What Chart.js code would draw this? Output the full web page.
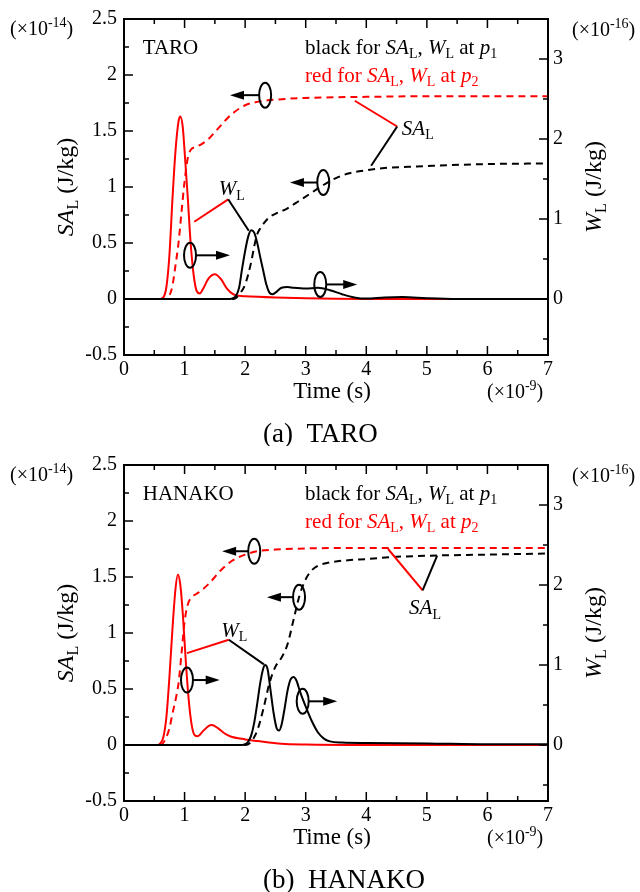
<!DOCTYPE html>
<html>
<head>
<meta charset="utf-8">
<script src="https://cdn.jsdelivr.net/npm/chart.js@4.4.1/dist/chart.umd.min.js"></script>
<style>
  html, body { margin: 0; padding: 0; background: #fff; }
  #wrap { position: relative; width: 640px; height: 892px; }
  canvas { position: absolute; left: 0; }
</style>
</head>
<body>
<div id="wrap">
  <canvas id="taro" width="640" height="446" style="top:0;width:640px;height:446px"></canvas>
  <canvas id="hanako" width="640" height="446" style="top:446px;width:640px;height:446px"></canvas>
</div>
<script>
// axis ranges (time x1e-9 s, SA_L x1e-14 J/kg, W_L x1e-16 J/kg)
const timeRange = [0, 7];
const saRange = [-0.5, 2.5];
const wRange = [-0.7, 3.5];

// (a) TARO
const taroRedWTime = [0, 0.6, 0.65, 0.7, 0.75, 0.8, 0.85, 0.9, 0.93, 0.97, 1.0, 1.05, 1.1, 1.15, 1.2, 1.25, 1.3, 1.4, 1.5, 1.6, 1.7, 1.8, 1.9, 2.0, 2.5, 3.0, 3.5, 4.0, 7.0];
const taroRedW = [0, 0, 0.02, 0.15, 0.55, 1.25, 1.85, 2.22, 2.28, 2.15, 1.85, 1.3, 0.7, 0.3, 0.1, 0.07, 0.12, 0.26, 0.31, 0.25, 0.13, 0.06, 0.04, 0.035, 0.02, 0.01, 0.003, 0, 0];
const taroRedSATime = [0, 0.7, 0.75, 0.8, 0.85, 0.9, 0.95, 1.0, 1.05, 1.1, 1.2, 1.3, 1.4, 1.5, 1.6, 1.7, 1.8, 2.0, 2.2, 2.5, 3.0, 4.0, 5.0, 7.0];
const taroRedSA = [0, 0, 0.03, 0.12, 0.3, 0.5, 0.78, 1.05, 1.25, 1.33, 1.36, 1.39, 1.43, 1.49, 1.55, 1.61, 1.66, 1.73, 1.76, 1.78, 1.795, 1.805, 1.81, 1.81];
const taroBlackWTime = [0, 1.75, 1.8, 1.85, 1.9, 1.95, 2.0, 2.05, 2.1, 2.15, 2.2, 2.25, 2.3, 2.35, 2.4, 2.45, 2.5, 2.6, 2.7, 2.8, 3.0, 3.2, 3.4, 3.6, 3.8, 4.0, 4.3, 4.6, 5.0, 5.5, 7.0];
const taroBlackW = [0, 0, 0.01, 0.04, 0.14, 0.38, 0.6, 0.78, 0.86, 0.83, 0.7, 0.52, 0.35, 0.18, 0.08, 0.06, 0.08, 0.14, 0.15, 0.14, 0.13, 0.14, 0.11, 0.06, 0.02, 0.005, 0.02, 0.025, 0.01, 0, 0];
const taroBlackSATime = [0, 1.8, 1.85, 1.9, 2.0, 2.1, 2.15, 2.2, 2.25, 2.3, 2.4, 2.5, 2.7, 2.9, 3.1, 3.3, 3.5, 3.7, 4.0, 4.3, 4.7, 5.1, 6.0, 7.0];
const taroBlackSA = [0, 0, 0.01, 0.04, 0.13, 0.33, 0.47, 0.58, 0.63, 0.67, 0.73, 0.76, 0.81, 0.88, 0.95, 1.02, 1.08, 1.12, 1.15, 1.17, 1.18, 1.19, 1.205, 1.21];

// (b) HANAKO
const hanakoRedWTime = [0, 0.55, 0.6, 0.65, 0.7, 0.75, 0.8, 0.85, 0.89, 0.93, 0.97, 1.02, 1.07, 1.12, 1.17, 1.22, 1.3, 1.4, 1.45, 1.55, 1.65, 1.75, 2.0, 2.2, 2.6, 3.0, 4.0, 7.0];
const hanakoRedW = [0, 0, 0.02, 0.1, 0.35, 0.85, 1.45, 1.95, 2.13, 2.0, 1.65, 1.05, 0.55, 0.24, 0.12, 0.11, 0.17, 0.24, 0.25, 0.21, 0.15, 0.11, 0.07, 0.05, 0.015, 0.005, 0, 0];
const hanakoRedSATime = [0, 0.6, 0.65, 0.7, 0.75, 0.8, 0.85, 0.9, 0.95, 1.0, 1.05, 1.1, 1.2, 1.3, 1.4, 1.5, 1.6, 1.7, 1.8, 2.0, 2.2, 2.5, 3.0, 4.0, 7.0];
const hanakoRedSA = [0, 0, 0.02, 0.07, 0.15, 0.28, 0.4, 0.55, 0.82, 1.1, 1.25, 1.31, 1.35, 1.39, 1.44, 1.5, 1.56, 1.61, 1.65, 1.7, 1.73, 1.745, 1.755, 1.76, 1.76];
const hanakoBlackWTime = [0, 1.95, 2.0, 2.05, 2.1, 2.15, 2.2, 2.25, 2.3, 2.33, 2.37, 2.42, 2.47, 2.52, 2.56, 2.6, 2.65, 2.7, 2.75, 2.8, 2.85, 2.9, 3.0, 3.1, 3.2, 3.3, 3.4, 3.6, 4.0, 5.0, 6.0, 7.0];
const hanakoBlackW = [0, 0, 0.01, 0.04, 0.12, 0.28, 0.52, 0.78, 0.96, 1.0, 0.95, 0.68, 0.4, 0.21, 0.18, 0.25, 0.45, 0.68, 0.82, 0.85, 0.8, 0.68, 0.48, 0.3, 0.16, 0.08, 0.045, 0.03, 0.025, 0.02, 0.01, 0.01];
const hanakoBlackSATime = [0, 2.0, 2.1, 2.2, 2.3, 2.4, 2.5, 2.6, 2.7, 2.8, 2.9, 3.0, 3.1, 3.2, 3.4, 3.7, 4.0, 4.5, 5.0, 6.0, 7.0];
const hanakoBlackSA = [0, 0, 0.03, 0.13, 0.32, 0.55, 0.7, 0.78, 0.9, 1.12, 1.34, 1.48, 1.56, 1.6, 1.63, 1.65, 1.66, 1.68, 1.69, 1.70, 1.71];

const SERIF = '"Liberation Serif", "Times New Roman", serif';
const RED = '#ff0000';

function pts(t, v) {
  return t.map((x, i) => ({ x: x, y: v[i] }));
}

// parts: {t, i (italic), sub, sup}; y is baseline
function drawRich(ctx, parts, x, y, size, color, align) {
  ctx.save();
  ctx.fillStyle = color;
  ctx.textBaseline = 'alphabetic';
  ctx.textAlign = 'left';
  const fontOf = p => (p.i ? 'italic ' : '') + Math.round((p.sub || p.sup) ? size * 0.68 : size) + 'px ' + SERIF;
  let w = 0;
  parts.forEach(p => { ctx.font = fontOf(p); w += ctx.measureText(p.t).width; });
  let cx = align === 'center' ? x - w / 2 : (align === 'right' ? x - w : x);
  parts.forEach(p => {
    ctx.font = fontOf(p);
    const dy = p.sub ? size * 0.22 : (p.sup ? -size * 0.4 : 0);
    ctx.fillText(p.t, cx, y + dy);
    cx += ctx.measureText(p.t).width;
  });
  ctx.restore();
}

const SA_L = [{ t: 'SA', i: true }, { t: 'L', sub: true }];
const W_L = [{ t: 'W', i: true }, { t: 'L', sub: true }];

const decoPlugin = {
  id: 'deco',
  afterDraw(chart, args, o) {
    const ctx = chart.ctx;
    const a = chart.chartArea;
    const xs = chart.scales.x, ys = chart.scales.y, y2 = chart.scales.y2;
    const X = v => xs.getPixelForValue(v);
    const Y = v => ys.getPixelForValue(v);
    ctx.save();
    ctx.strokeStyle = '#000';
    ctx.lineWidth = 2;
    ctx.strokeRect(a.left, a.top, a.right - a.left, a.bottom - a.top);

    // inward ticks
    ctx.lineWidth = 1.5;
    ctx.beginPath();
    for (let k = 0; k <= 14; k++) {
      const px = X(k * 0.5), len = k % 2 === 0 ? 9 : 5;
      ctx.moveTo(px, a.bottom); ctx.lineTo(px, a.bottom - len);
      ctx.moveTo(px, a.top); ctx.lineTo(px, a.top + len);
    }
    for (let k = -2; k <= 10; k++) {
      const py = Y(k * 0.25), len = k % 2 === 0 ? 9 : 5;
      ctx.moveTo(a.left, py); ctx.lineTo(a.left + len, py);
    }
    for (let k = -1; k <= 7; k++) {
      const py = y2.getPixelForValue(k * 0.5), len = k % 2 === 0 ? 9 : 5;
      ctx.moveTo(a.right, py); ctx.lineTo(a.right - len, py);
    }
    ctx.stroke();

    // leader lines
    ctx.lineWidth = 2;
    o.leaders.forEach(l => {
      ctx.strokeStyle = l.color;
      ctx.beginPath();
      ctx.moveTo(X(l.from[0]), Y(l.from[1]));
      ctx.lineTo(X(l.to[0]), Y(l.to[1]));
      ctx.stroke();
    });

    // ovals with arrows
    ctx.strokeStyle = '#000';
    ctx.fillStyle = '#000';
    o.ovals.forEach(e => {
      const cx = X(e.x), cy = Y(e.y), tip = X(e.tip);
      const dir = tip > cx ? 1 : -1;
      ctx.beginPath();
      ctx.ellipse(cx, cy, 6, 12.5, 0, 0, Math.PI * 2);
      ctx.stroke();
      ctx.beginPath();
      ctx.moveTo(cx + dir * 6, cy);
      ctx.lineTo(tip - dir * 12, cy);
      ctx.stroke();
      ctx.beginPath();
      ctx.moveTo(tip, cy);
      ctx.lineTo(tip - dir * 14, cy - 4.5);
      ctx.lineTo(tip - dir * 14, cy + 4.5);
      ctx.closePath();
      ctx.fill();
    });
    ctx.restore();

    // curve labels
    o.labels.forEach(l => drawRich(ctx, l.parts, X(l.x), Y(l.y) + 7, 21, '#000', 'center'));

    // header texts
    drawRich(ctx, [{ t: o.name }], X(0.31), Y(2.19), 21, '#000', 'left');
    drawRich(ctx, [{ t: 'black for ' }, ...SA_L, { t: ', ' }, ...W_L, { t: ' at ' }, { t: 'p', i: true }, { t: '1', sub: true }],
      X(2.99), Y(2.19), 21, '#000', 'left');
    drawRich(ctx, [{ t: 'red for ' }, ...SA_L, { t: ', ' }, ...W_L, { t: ' at ' }, { t: 'p', i: true }, { t: '2', sub: true }],
      X(2.99), Y(1.94), 21, RED, 'left');

    // axis titles and multipliers
    const midY = (a.top + a.bottom) / 2;
    ctx.save();
    ctx.translate(73, midY);
    ctx.rotate(-Math.PI / 2);
    drawRich(ctx, [...SA_L, { t: ' (J/kg)' }], 0, 0, 24, '#000', 'center');
    ctx.restore();
    ctx.save();
    ctx.translate(601, midY);
    ctx.rotate(-Math.PI / 2);
    drawRich(ctx, [...W_L, { t: ' (J/kg)' }], 0, 0, 24, '#000', 'center');
    ctx.restore();
    drawRich(ctx, [{ t: '(×10' }, { t: '-14', sup: true }, { t: ')' }], 10, 35, 20, '#000', 'left');
    drawRich(ctx, [{ t: '(×10' }, { t: '-16', sup: true }, { t: ')' }], 572, 36, 20, '#000', 'left');
    drawRich(ctx, [{ t: '(×10' }, { t: '-9', sup: true }, { t: ')' }], 487, a.bottom + 43, 20, '#000', 'left');
    drawRich(ctx, [{ t: 'Time (s)' }], 332, a.bottom + 43, 23, '#000', 'center');
    drawRich(ctx, [{ t: o.caption + '\u00a0\u00a0' + o.name }], 263, 442, 27, '#000', 'left');
  }
};

const fmt = v => String(Number(v.toFixed(2)));

function makeChart(id, s, deco) {
  const line = (data, color, dashed, axis) => ({
    data: data,
    yAxisID: axis,
    borderColor: color,
    borderWidth: 2,
    borderDash: dashed ? [7, 5] : [],
    pointRadius: 0,
    fill: false,
    cubicInterpolationMode: 'monotone'
  });
  const tickFont = { family: SERIF, size: 20 };
  return new Chart(document.getElementById(id), {
    type: 'line',
    data: {
      datasets: [
        line(pts(s.blackWTime, s.blackW), '#000', false, 'y2'),
        line(pts(s.blackSATime, s.blackSA), '#000', true, 'y'),
        line(pts(s.redSATime, s.redSA), RED, true, 'y'),
        line(pts(s.redWTime, s.redW), RED, false, 'y2')
      ]
    },
    options: {
      responsive: false,
      animation: false,
      layout: { padding: { top: 14, left: 0, right: 0, bottom: 0 } },
      plugins: { legend: { display: false }, tooltip: { enabled: false }, deco: deco },
      scales: {
        x: {
          type: 'linear', min: timeRange[0], max: timeRange[1],
          grid: { display: false, drawTicks: false }, border: { display: false },
          ticks: { stepSize: 1, font: tickFont, color: '#000', padding: 3, maxRotation: 0, callback: fmt },
          afterFit: sc => { sc.height = 91; }
        },
        y: {
          position: 'left', min: saRange[0], max: saRange[1],
          grid: { display: false, drawTicks: false }, border: { display: false },
          ticks: { stepSize: 0.5, font: tickFont, color: '#000', padding: 7, callback: fmt },
          afterFit: sc => { sc.width = 124; }
        },
        y2: {
          position: 'right', min: wRange[0], max: wRange[1],
          grid: { display: false, drawTicks: false }, border: { display: false },
          ticks: { stepSize: 1, includeBounds: false, font: tickFont, color: '#000', padding: 5,
            callback: v => (Number.isInteger(v) && v >= 0) ? String(v) : '' },
          afterFit: sc => { sc.width = 92; }
        }
      }
    },
    plugins: [decoPlugin]
  });
}

makeChart('taro', {
  redWTime: taroRedWTime, redW: taroRedW, redSATime: taroRedSATime, redSA: taroRedSA,
  blackWTime: taroBlackWTime, blackW: taroBlackW, blackSATime: taroBlackSATime, blackSA: taroBlackSA
}, {
  name: 'TARO', caption: '(a)',
  ovals: [
    { x: 2.33, y: 1.82, tip: 1.75 },
    { x: 3.29, y: 1.04, tip: 2.74 },
    { x: 1.09, y: 0.39, tip: 1.75 },
    { x: 3.24, y: 0.13, tip: 3.85 }
  ],
  labels: [
    { parts: W_L, x: 1.78, y: 0.99 },
    { parts: SA_L, x: 4.85, y: 1.53 }
  ],
  leaders: [
    { color: RED, from: [1.16, 0.69], to: [1.72, 0.89] },
    { color: '#000', from: [1.72, 0.89], to: [2.06, 0.61] },
    { color: RED, from: [3.81, 1.77], to: [4.51, 1.54] },
    { color: '#000', from: [4.51, 1.54], to: [4.08, 1.19] }
  ]
});

makeChart('hanako', {
  redWTime: hanakoRedWTime, redW: hanakoRedW, redSATime: hanakoRedSATime, redSA: hanakoRedSA,
  blackWTime: hanakoBlackWTime, blackW: hanakoBlackW, blackSATime: hanakoBlackSATime, blackSA: hanakoBlackSA
}, {
  name: 'HANAKO', caption: '(b)',
  ovals: [
    { x: 2.15, y: 1.73, tip: 1.62 },
    { x: 2.89, y: 1.32, tip: 2.36 },
    { x: 1.04, y: 0.58, tip: 1.58 },
    { x: 2.95, y: 0.39, tip: 3.52 }
  ],
  labels: [
    { parts: W_L, x: 1.82, y: 1.03 },
    { parts: SA_L, x: 4.97, y: 1.23 }
  ],
  leaders: [
    { color: RED, from: [1.04, 0.82], to: [1.73, 0.94] },
    { color: '#000', from: [1.73, 0.94], to: [2.31, 0.72] },
    { color: RED, from: [4.36, 1.75], to: [4.93, 1.38] },
    { color: '#000', from: [4.93, 1.38], to: [5.17, 1.69] }
  ]
});
</script>
</body>
</html>
